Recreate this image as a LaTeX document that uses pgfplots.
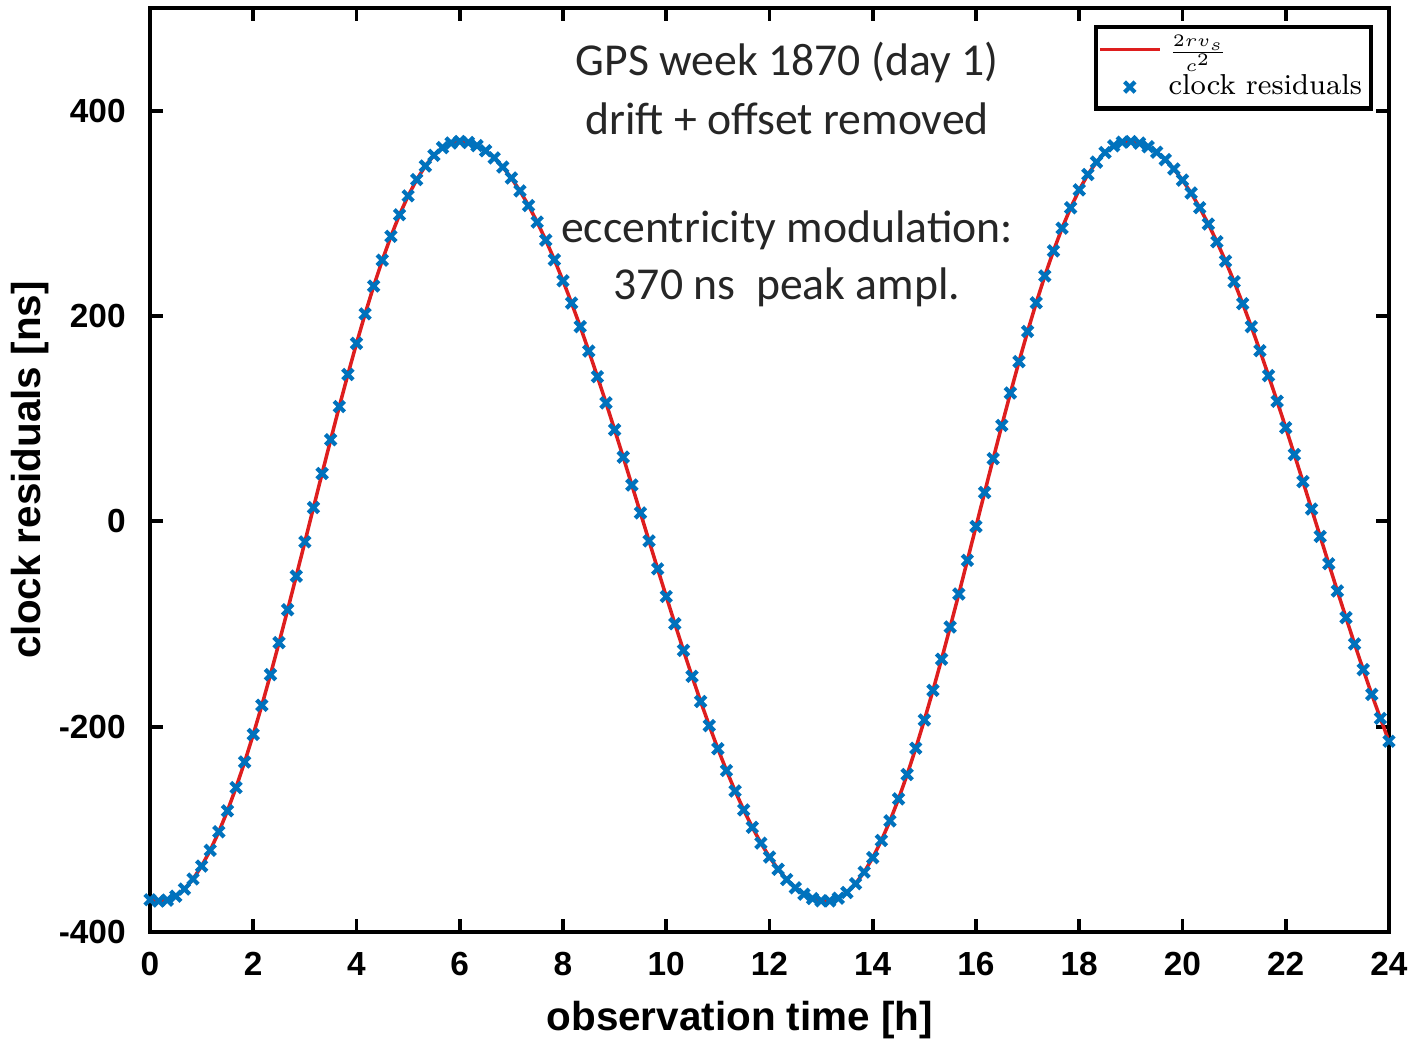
\documentclass[border=0pt]{standalone}
\usepackage{fontspec}
\usepackage{pgfplots}
\pgfplotsset{compat=1.18}
\usepackage{pgfplotstable}
\newfontfamily\arialfont{Liberation Sans}
\newfontfamily\calfont{Carlito}
\definecolor{lred}{RGB}{222,30,30}
\definecolor{mblue}{RGB}{0,114,189}

% clock residuals, sampled every 10 min
\pgfplotstableread{
t y
0 -368.6
0.1667 -369.9
0.3333 -369.0
0.5 -365.1
0.6667 -358.2
0.8333 -348.4
1 -335.8
1.1667 -320.4
1.3333 -302.4
1.5 -282.0
1.6667 -259.3
1.8333 -234.4
2 -207.6
2.1667 -179.2
2.3333 -149.3
2.5 -118.1
2.6667 -86.1
2.8333 -53.3
3 -20.0
3.1667 13.4
3.3333 46.6
3.5 79.5
3.6667 111.8
3.8333 143.1
4 173.3
4.1667 202.1
4.3333 229.2
4.5 254.4
4.6667 277.6
4.8333 298.6
5 317.0
5.1667 332.9
5.3333 346.1
5.5 356.5
5.6667 364.0
5.8333 368.5
6 370.0
6.1667 369.0
6.3333 366.0
6.5 361.0
6.6667 354.0
6.8333 345.1
7 334.4
7.1667 321.8
7.3333 307.5
7.5 291.5
7.6667 273.9
7.8333 254.8
8 234.3
8.1667 212.6
8.3333 189.7
8.5 165.8
8.6667 140.9
8.8333 115.4
9 89.2
9.1667 62.5
9.3333 35.4
9.5 8.2
9.6667 -19.1
9.8333 -46.3
10 -73.2
10.1667 -99.7
10.3333 -125.7
10.5 -151.0
10.6667 -175.5
10.8333 -199.0
11 -221.5
11.1667 -242.7
11.3333 -262.6
11.5 -281.1
11.6667 -298.0
11.8333 -313.4
12 -327.0
12.1667 -338.9
12.3333 -348.9
12.5 -357.0
12.6667 -363.2
12.8333 -367.4
13 -369.6
13.1667 -369.8
13.3333 -367.1
13.5 -361.5
13.6667 -353.0
13.8333 -341.7
14 -327.6
14.1667 -310.9
14.3333 -291.8
14.5 -270.3
14.6667 -246.6
14.8333 -221.0
15 -193.5
15.1667 -164.6
15.3333 -134.3
15.5 -102.9
15.6667 -70.8
15.8333 -38.0
16 -5.0
16.1667 28.1
16.3333 61.0
16.5 93.4
16.6667 125.0
16.8333 155.6
17 185.0
17.1667 212.9
17.3333 239.1
17.5 263.4
17.6667 285.5
17.8333 305.4
18 322.9
18.1667 337.8
18.3333 349.9
18.5 359.2
18.6667 365.7
18.8333 369.3
19 369.9
19.1667 368.4
19.3333 364.9
19.5 359.5
19.6667 352.3
19.8333 343.2
20 332.4
20.1667 319.8
20.3333 305.5
20.5 289.6
20.6667 272.3
20.8333 253.5
21 233.4
21.1667 212.0
21.3333 189.6
21.5 166.2
21.6667 141.9
21.8333 116.9
22 91.2
22.1667 65.1
22.3333 38.7
22.5 12.0
22.6667 -14.7
22.8333 -41.3
23 -67.8
23.1667 -93.8
23.3333 -119.4
23.5 -144.4
23.6667 -168.6
23.8333 -191.9
24 -214.2
}\residuals

\begin{document}
\begin{tikzpicture}
\useasboundingbox (-1.5,-1.12) rectangle (12.69,9.32);
\begin{axis}[
  scale only axis, width=12.39cm, height=9.24cm,
  xmin=0, xmax=24, ymin=-400, ymax=500,
  xtick={0,2,...,24}, ytick={-400,-200,0,200,400},
  tick align=inside, major tick length=0.13cm,
  axis line style={line width=1.1pt},
  every tick/.style={black, line width=1.1pt},
  /pgf/number format/assume math mode=true,
  tick label style={font=\arialfont\bfseries\fontsize{9.5}{11}\selectfont},
  yticklabel style={xshift=-0.12cm},
  xticklabel style={yshift=-0.08cm},
  label style={font=\arialfont\bfseries\fontsize{11.5}{13}\selectfont},
  xlabel={observation time [h]},
  ylabel={clock residuals [ns]},
  xlabel style={at={(axis description cs:0.476,-0.095)}, anchor=center},
  ylabel style={at={(axis description cs:-0.097,0.5)}, anchor=center},
  legend style={at={(rel axis cs:0.987,0.982)}, anchor=north east,
    draw=black, line width=1.2pt, font=\fontsize{8.2}{9}\selectfont,
    inner sep=0.5pt, row sep=-1pt},
  legend cell align=left,
]
\addplot[lred, line width=1pt, no markers] table[x=t, y=y] {\residuals};
\addlegendentry{\scriptsize$\frac{2rv_s}{c^2}$}
\addplot[mblue, only marks, mark=x, mark size=2.1pt, mark options={line width=1.2pt}] table[x=t, y=y] {\residuals};
\addlegendentry{clock residuals}

\node[font=\calfont\fontsize{13}{15}\selectfont, text=black!85] at (axis cs:12.34,447) {GPS week 1870 (day 1)};
\node[font=\calfont\fontsize{13}{15}\selectfont, text=black!85] at (axis cs:12.34,392) {drift + offset removed};
\node[font=\calfont\fontsize{13}{15}\selectfont, text=black!85] at (axis cs:12.34,283) {eccentricity modulation:};
\node[font=\calfont\fontsize{13}{15}\selectfont, text=black!85] at (axis cs:12.34,228) {370 ns\ \ peak ampl.};
\end{axis}
\end{tikzpicture}
\end{document}
